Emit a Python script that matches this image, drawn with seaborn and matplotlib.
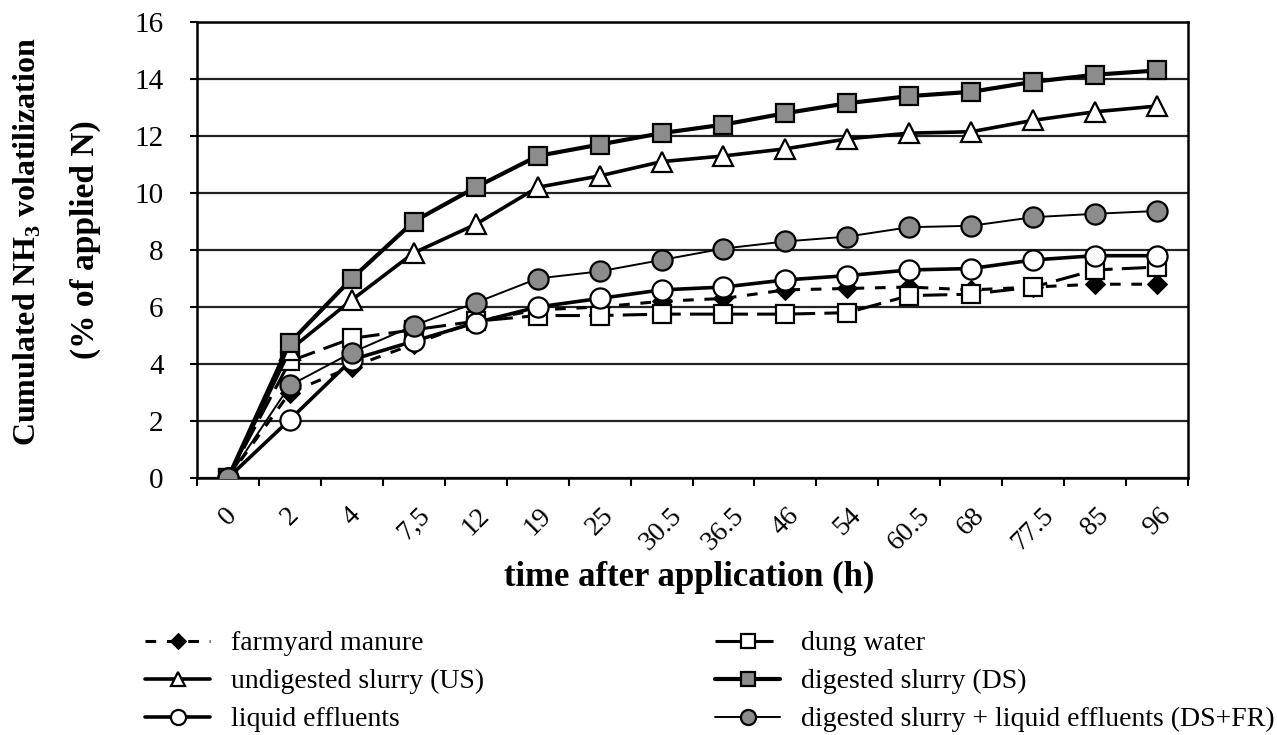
import numpy as np
import matplotlib
matplotlib.use("Agg")
import matplotlib.pyplot as plt
import seaborn as sns

# time points (h), shown as categories
time_labels = ["0", "2", "4", "7,5", "12", "19", "25", "30.5", "36.5",
               "46", "54", "60.5", "68", "77.5", "85", "96"]

# cumulated NH3 volatilization (% of applied N)
farmyard_manure = [0, 3.0, 3.9, 4.7, 5.5, 5.9, 6.0, 6.2, 6.3, 6.6, 6.65,
                   6.7, 6.6, 6.7, 6.8, 6.8]
dung_water = [0, 4.1, 4.9, 5.2, 5.5, 5.7, 5.7, 5.75, 5.75, 5.75, 5.8,
              6.4, 6.45, 6.7, 7.3, 7.4]
undigested_slurry = [0, 4.5, 6.25, 7.9, 8.9, 10.2, 10.6, 11.1, 11.3, 11.55,
                     11.9, 12.1, 12.15, 12.55, 12.85, 13.05]
digested_slurry = [0, 4.75, 7.0, 9.0, 10.2, 11.3, 11.7, 12.1, 12.4, 12.8,
                   13.15, 13.4, 13.55, 13.9, 14.15, 14.3]
liquid_effluents = [0, 2.05, 4.15, 4.8, 5.45, 6.0, 6.3, 6.6, 6.7, 6.95,
                    7.1, 7.3, 7.35, 7.65, 7.8, 7.8]
ds_plus_fr = [0, 3.25, 4.4, 5.35, 6.15, 7.0, 7.25, 7.65, 8.05, 8.3,
              8.47, 8.8, 8.85, 9.15, 9.27, 9.37]

sns.set_theme(style="white")
plt.rcParams["font.family"] = ["Liberation Serif", "DejaVu Serif"]
plt.rcParams["mathtext.fontset"] = "custom"
plt.rcParams["mathtext.rm"] = "Liberation Serif"
plt.rcParams["mathtext.bf"] = "Liberation Serif:bold"

W, H = 1277, 735
fig = plt.figure(figsize=(W / 100, H / 100), dpi=100)
ax = fig.add_axes([197 / W, 1 - 478 / H, (1188 - 197) / W, (478 - 22) / H])

x = np.arange(len(time_labels))
grey = "#8c8c8c"

series = [
    ("farmyard manure", farmyard_manure,
     dict(linestyle=(0, (3.5, 3.5)), linewidth=2.2, marker="D", markersize=10.5,
          markerfacecolor="black", markeredgecolor="black")),
    ("dung water", dung_water,
     dict(linestyle=(0, (8, 3)), linewidth=2.2, marker="s", markersize=12.5,
          markerfacecolor="white", markeredgecolor="black", markeredgewidth=1.6)),
    ("undigested slurry (US)", undigested_slurry,
     dict(linestyle="-", linewidth=2.6, marker="^", markersize=14,
          markerfacecolor="white", markeredgecolor="black", markeredgewidth=1.6)),
    ("digested slurry (DS)", digested_slurry,
     dict(linestyle="-", linewidth=3.0, marker="s", markersize=13,
          markerfacecolor=grey, markeredgecolor="black", markeredgewidth=1.6)),
    ("liquid effluents", liquid_effluents,
     dict(linestyle="-", linewidth=2.6, marker="o", markersize=14.5,
          markerfacecolor="white", markeredgecolor="black", markeredgewidth=1.6)),
    ("digested slurry + liquid effluents (DS+FR)", ds_plus_fr,
     dict(linestyle="-", linewidth=1.4, marker="o", markersize=14.5,
          markerfacecolor=grey, markeredgecolor="black", markeredgewidth=1.6)),
]

handles = {}
for z, (name, vals, style) in enumerate(series):
    sns.lineplot(x=x, y=vals, ax=ax, color="black", sort=False,
                 label=name, zorder=3 + z, **style)
    handles[name] = ax.get_lines()[-1]

# axes
ax.set_xlim(-0.5, len(time_labels) - 0.5)
ax.set_ylim(0, 16)
ax.set_yticks(np.arange(0, 17, 2))
ax.set_xticks(x)
ax.set_xticklabels(time_labels, rotation=45, ha="center", fontsize=20)
ax.set_xticks(np.arange(-0.5, len(time_labels), 1), minor=True)
ax.tick_params(axis="x", which="major", length=0, pad=18)
ax.tick_params(axis="x", which="minor", length=6, width=1.5, color="black",
               direction="out", bottom=True)
ax.tick_params(axis="y", length=5, width=1.5, color="black", direction="out",
               labelsize=21, pad=19, left=True)
for lbl in ax.get_yticklabels() + ax.get_xticklabels():
    lbl.set_color("black")

ax.yaxis.grid(True, color="#222222", linewidth=1.6)
ax.set_axisbelow(True)
for side in ["left", "right", "top", "bottom"]:
    ax.spines[side].set_visible(True)
    ax.spines[side].set_color("black")
    ax.spines[side].set_linewidth(1.8)

ax.set_xlabel("time after application (h)", fontsize=25, fontweight="bold",
              color="black")
ax.xaxis.set_label_coords(0.497, (478 - 561) / (478 - 22))

# two-line y title, each line placed on its own
fig.text(27 / W, 1 - 242 / H, "Cumulated NH$_\\mathbf{3}$ volatilization",
         rotation=90, ha="center", va="center", fontsize=23,
         fontweight="bold", color="black")
fig.text(85 / W, 1 - 240 / H, "(% of applied N)",
         rotation=90, ha="center", va="center", fontsize=24,
         fontweight="bold", color="black")

ax.get_legend().remove()
left_col = ["farmyard manure", "undigested slurry (US)", "liquid effluents"]
right_col = ["dung water", "digested slurry (DS)",
             "digested slurry + liquid effluents (DS+FR)"]
leg_kw = dict(loc="upper left", frameon=False, fontsize=20, handlelength=2.35,
              labelspacing=0.45, handletextpad=0.75, borderpad=0,
              borderaxespad=0, markerscale=0.75)
for col, x0 in [(left_col, 145), (right_col, 715)]:
    leg = fig.legend([handles[n] for n in col], col,
                     bbox_to_anchor=(x0 / W, 1 - 631 / H), **leg_kw)
    for t in leg.get_texts():
        t.set_color("black")

fig.savefig("out.png", dpi=100)
